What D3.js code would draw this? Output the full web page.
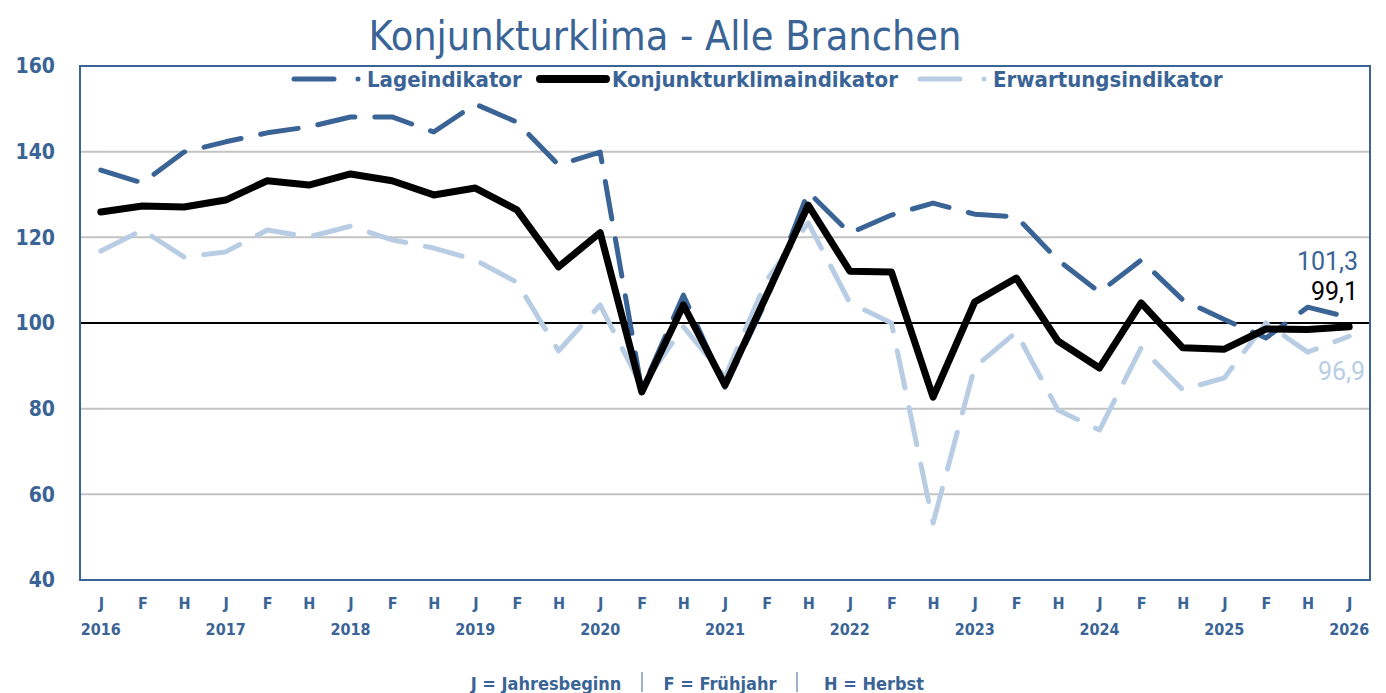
<!DOCTYPE html>
<meta charset="utf-8">
<style>
  body { margin: 0; background: #fff; }
  .lbl { font-family: "DejaVu Sans Condensed", "DejaVu Sans", sans-serif; font-stretch: condensed; font-weight: bold; fill: #3a6496; }
</style>
<script src="https://d3js.org/d3.v7.min.js"></script>
<div id="chart"></div>
<script>
// periods: J = Jahresbeginn, F = Frühjahr, H = Herbst
var periods = ["J16","F16","H16","J17","F17","H17","J18","F18","H18","J19","F19","H19",
               "J20","F20","H20","J21","F21","H21","J22","F22","H22","J23","F23","H23",
               "J24","F24","H24","J25","F25","H25","J26"];
var years = ["2016","2017","2018","2019","2020","2021","2022","2023","2024","2025","2026"];
var yTicks = [40, 60, 80, 100, 120, 140, 160];

var klima = [125.9,127.3,127.1,128.7,133.2,132.2,134.8,133.2,129.9,131.5,126.4,113.1,
             121.1,83.9,104.2,85.5,106.5,127.5,112.1,111.9,82.7,104.9,110.5,95.8,
             89.5,104.7,94.2,93.9,98.6,98.5,99.1];
var lage = [135.7,132.7,139.9,142.3,144.4,145.8,148.1,148.1,144.6,151.1,146.9,136.9,
            139.9,84.4,106.5,85.0,105.5,130.6,121.0,125.2,128.0,125.4,124.8,114.7,
            107.2,114.7,105.4,100.8,96.5,103.7,101.3];
var erwartung = [116.8,121.7,115.4,116.6,121.7,120.1,122.6,119.4,117.5,114.7,109.5,93.5,
                 104.2,85.1,99.1,87.4,110.0,123.4,104.7,100.0,53.3,89.7,97.9,79.7,
                 75.0,94.2,84.4,87.2,100.0,93.2,96.9];

var W = 1386, H = 693;
var pLeft = 80, pRight = 1370, pTop = 66, pBottom = 580;
var dark = "#3a6496", light = "#b8cde4";

var svg = d3.select("#chart").append("svg").attr("width", W).attr("height", H);

var x = d3.scalePoint().domain(periods).range([pLeft, pRight]).padding(0.5);
var y = d3.scaleLinear().domain([40, 160]).range([pBottom, pTop]);

// title
svg.append("text")
  .attr("x", 665).attr("y", 50)
  .attr("text-anchor", "middle")
  .style("font-family", "'DejaVu Sans Condensed', 'DejaVu Sans', sans-serif")
  .style("font-stretch", "condensed")
  .style("font-size", "41px")
  .style("fill", dark)
  .text("Konjunkturklima - Alle Branchen");

// grid lines
svg.append("g").selectAll("line")
  .data(yTicks.filter(function(d) { return d != 40 && d != 160 && d != 100; }))
  .enter().append("line")
    .attr("x1", pLeft).attr("x2", pRight)
    .attr("y1", function(d) { return y(d); })
    .attr("y2", function(d) { return y(d); })
    .attr("stroke", "#c3c3c3").attr("stroke-width", 2);

// y axis labels
var yAxis = svg.append("g")
  .attr("transform", "translate(" + pLeft + ",0)")
  .call(d3.axisLeft(y).tickValues(yTicks).tickSize(0).tickPadding(25));
yAxis.select(".domain").remove();
yAxis.selectAll("text").attr("class", "lbl").style("font-size", "21px");

// x axis labels
var xAxis = svg.append("g")
  .attr("transform", "translate(0," + pBottom + ")")
  .call(d3.axisBottom(x).tickSize(0).tickPadding(18).tickFormat(function(d) { return d.charAt(0); }));
xAxis.select(".domain").remove();
xAxis.selectAll("text").attr("class", "lbl").style("font-size", "16px");

svg.append("g").selectAll("text")
  .data(years)
  .enter().append("text")
    .attr("class", "lbl")
    .attr("x", function(d) { return x("J" + d.slice(2)); })
    .attr("y", 635)
    .attr("text-anchor", "middle")
    .style("font-size", "16px")
    .text(function(d) { return d; });

// 100 line
svg.append("line")
  .attr("x1", pLeft).attr("x2", pRight)
  .attr("y1", y(100)).attr("y2", y(100))
  .attr("stroke", "#000").attr("stroke-width", 2);

var line = d3.line()
  .x(function(d, i) { return x(periods[i]); })
  .y(function(d) { return y(d); });

svg.append("path").datum(erwartung)
  .attr("d", line).attr("fill", "none")
  .attr("stroke", light).attr("stroke-width", 5)
  .attr("stroke-linecap", "round").attr("stroke-linejoin", "round")
  .attr("stroke-dasharray", "38,20");

svg.append("path").datum(lage)
  .attr("d", line).attr("fill", "none")
  .attr("stroke", dark).attr("stroke-width", 5)
  .attr("stroke-linecap", "round").attr("stroke-linejoin", "round")
  .attr("stroke-dasharray", "38,20");

svg.append("path").datum(klima)
  .attr("d", line).attr("fill", "none")
  .attr("stroke", "#000").attr("stroke-width", 7)
  .attr("stroke-linecap", "round").attr("stroke-linejoin", "round");

// plot border
svg.append("rect")
  .attr("x", pLeft).attr("y", pTop)
  .attr("width", pRight - pLeft).attr("height", pBottom - pTop)
  .attr("fill", "none").attr("stroke", dark).attr("stroke-width", 2);

// end labels
function endLabel(val, color, xx, yy) {
  svg.append("text")
    .attr("x", xx).attr("y", yy)
    .attr("text-anchor", "end")
    .style("font-family", "Roboto, 'Liberation Sans', sans-serif")
    .style("font-size", "25px")
    .style("fill", color)
    .text(d3.format(".1f")(val).replace(".", ","));
}
endLabel(lage[lage.length - 1], dark, 1358, 270);
endLabel(klima[klima.length - 1], "#000", 1358, 300);
endLabel(erwartung[erwartung.length - 1], light, 1365, 380);

// legend
var legend = [
  {name: "Lageindikator", color: dark, w: 5, dash: true, x: 294, dot: true},
  {name: "Konjunkturklimaindikator", color: "#000", w: 8, dash: false, x: 540, dot: false},
  {name: "Erwartungsindikator", color: light, w: 5, dash: true, x: 920, dot: true}
];
legend.forEach(function(l) {
  svg.append("line")
    .attr("x1", l.x).attr("x2", l.dash ? l.x + 40 : l.x + 66)
    .attr("y1", 79).attr("y2", 79)
    .attr("stroke", l.color).attr("stroke-width", l.w)
    .attr("stroke-linecap", "round");
  if (l.dot) {
    svg.append("circle").attr("cx", l.x + 64).attr("cy", 79).attr("r", 2.5).attr("fill", l.color);
  }
  svg.append("text")
    .attr("class", "lbl")
    .attr("x", l.dot ? l.x + 73 : l.x + 72).attr("y", 87)
    .style("font-size", "22px")
    .text(l.name);
});

// footnote
var foot = ["J = Jahresbeginn", "F = Frühjahr", "H = Herbst"];
var footX = [546, 720, 874];
svg.append("g").selectAll("text")
  .data(foot)
  .enter().append("text")
    .attr("class", "lbl")
    .attr("x", function(d, i) { return footX[i]; })
    .attr("y", 690)
    .attr("text-anchor", "middle")
    .style("font-size", "18px")
    .text(function(d) { return d; });
[642, 797].forEach(function(sx) {
  svg.append("line").attr("x1", sx).attr("x2", sx).attr("y1", 672).attr("y2", 692)
    .attr("stroke", dark).attr("stroke-width", 1);
});
</script>
